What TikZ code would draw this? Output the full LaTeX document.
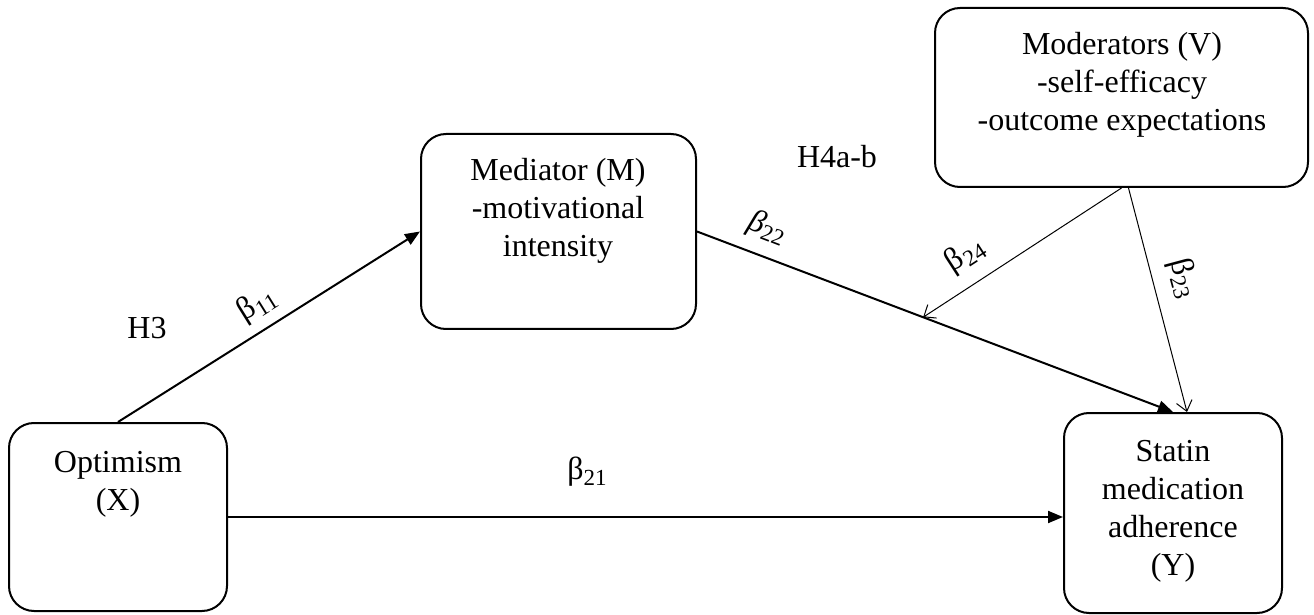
\documentclass[tikz,border=0pt]{standalone}
\usepackage{fontspec}
\setmainfont{Liberation Serif}
\usetikzlibrary{arrows.meta}
% coefficient symbol with a lowered, smaller index
\newcommand{\coef}[2]{#1\raisebox{-0.35ex}{\fontsize{11.5}{11.5}\selectfont #2}}
\begin{document}
\begin{tikzpicture}[x=0.5pt,y=-0.5pt,
  box/.style={draw, line width=1pt, rounded corners=12.5pt, inner sep=0pt},
  txt/.style={font=\fontsize{16}{19}\selectfont, align=center, inner sep=0pt},
  lab/.style={font=\fontsize{16}{19}\selectfont, inner sep=0pt},
  bold/.style={line width=1pt, -{Triangle[length=7.5pt,width=6pt]}},
  thin/.style={line width=0.5pt, -{Straight Barb[length=5pt,width=8pt]}}]
\useasboundingbox (0,0) rectangle (1314,615);

% variable boxes
\node[box, minimum width=109pt, minimum height=94pt] (opt) at (118,517) {};
\node[box, minimum width=137.5pt, minimum height=97.5pt] (med) at (558.5,231.5) {};
\node[box, minimum width=186.5pt, minimum height=89.5pt] (mod) at (1121.5,97.5) {};
\node[box, minimum width=109pt, minimum height=100pt] (stat) at (1173,513) {};

% box texts
\node[txt] (optT) at (118,484) {Optimism\\(X)};
\node[txt] (medT) at (558,211) {Mediator (M)\\-motivational\\intensity};
\node[txt] (modT) at (1122,85) {Moderators (V)\\-self-efficacy\\-outcome expectations};
\node[txt] (statT) at (1173,511) {Statin\\medication\\adherence\\(Y)};

% paths
\draw[bold] (opt.north) -- (med.west);
\draw[bold] (opt.east) -- (opt.east -| stat.west);
\draw[bold] (med.east) -- (stat.north);
\path (med.east) -- (stat.north) coordinate[pos=0.475] (mid);
\draw[thin] (mod.south) -- (mid);
\draw[thin] ([xshift=3.5pt]mod.south) -- ([xshift=7pt]stat.north);

% hypothesis labels
\node[lab] (h3) at (147,328) {H3};
\node[lab] (h4) at (837,157) {H4a-b};

% coefficient labels
\node[lab, rotate=32] (b11) at (257,305) {\coef{β}{11}};
\node[lab] (b21) at (587,472) {\coef{β}{21}};
\node[lab, rotate=-21] (b22) at (767,228) {\coef{\textit{β}}{22}};
\node[lab, rotate=33] (b24) at (965,255) {\coef{β}{24}};
\node[lab, rotate=-75] (b23) at (1183,278) {\coef{β}{23}};
\end{tikzpicture}
\end{document}
